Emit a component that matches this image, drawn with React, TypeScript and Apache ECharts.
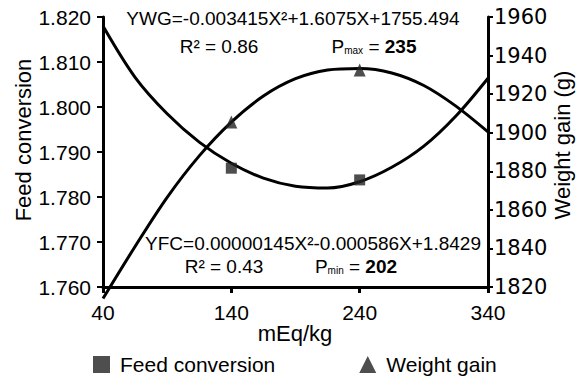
import React, { useEffect, useRef } from "react";
import * as echarts from "echarts";

// fitted curves at these doses (mEq/kg)
const fitX = [40, 65, 90, 115, 140, 165, 190, 215, 240, 265, 290, 315, 340];
const fcFit = [1.818, 1.8066, 1.7985, 1.7922, 1.7875, 1.7842, 1.7824, 1.782, 1.7834, 1.7866, 1.7913, 1.798, 1.8064];
const wgFit = [1814, 1841, 1866.5, 1888, 1905.5, 1919, 1928, 1932.5, 1933.3, 1931, 1924.5, 1913.8, 1900.4];

// observed means
const markX = [140, 240];
const fcMarks = [1.7864, 1.7838];
const wgMarks = [1905.6, 1932.5];

const FONT = "'Liberation Sans', Arial, sans-serif";

export default function App() {
  const ref = useRef<HTMLDivElement>(null);
  useEffect(() => {
    if (!ref.current) return;
    const chart = echarts.init(ref.current, null, { renderer: "svg" });
    const pair = (xs: number[], ys: number[]) => xs.map((x, i) => [x, ys[i]]);
    const sub = (t: string) => ({
      text: t,
      textAlign: "center",
      textVerticalAlign: "middle",
    });
    const rich = {
      p: { fontSize: 19, fontFamily: FONT, fill: "#000" },
      s: { fontSize: 10, fontFamily: FONT, fill: "#000", verticalAlign: "bottom", padding: [8, 0, 0, 0] },
      n: { fontSize: 19, fontFamily: FONT, fill: "#000" },
      b: { fontSize: 19, fontFamily: FONT, fontWeight: "bold", fill: "#000" },
    };
    chart.setOption({
      animation: false,
      backgroundColor: "#fff",
      textStyle: { fontFamily: FONT, color: "#000" },
      grid: { left: 103, right: 91, top: 17, bottom: 90 },
      xAxis: {
        type: "value",
        min: 40,
        max: 340,
        interval: 100,
        splitLine: { show: false },
        axisLine: { show: true, lineStyle: { color: "#000", width: 3 } },
        axisTick: { show: true, length: 6, lineStyle: { color: "#000", width: 3 } },
        axisLabel: { color: "#000", fontSize: 21, fontFamily: FONT, margin: 15 },
      },
      yAxis: [
        {
          type: "value",
          min: 1.76,
          max: 1.82,
          interval: 0.01,
          splitLine: { show: false },
          axisLine: { show: true, lineStyle: { color: "#000", width: 3 } },
          axisTick: { show: true, length: 6, lineStyle: { color: "#000", width: 2 } },
          axisLabel: {
            color: "#000",
            fontSize: 21,
            fontFamily: FONT,
            margin: 12,
            formatter: (v: number) => v.toFixed(3),
          },
        },
        {
          type: "value",
          min: 1820,
          max: 1960,
          interval: 20,
          position: "right",
          splitLine: { show: false },
          axisLine: { show: true, lineStyle: { color: "#000", width: 3 } },
          axisTick: { show: true, length: 5, lineStyle: { color: "#000", width: 2 } },
          axisLabel: {
            color: "#000",
            fontSize: 21,
            fontFamily: "'DejaVu Sans', sans-serif",
            margin: 6,
            formatter: (v: number) => String(v),
          },
        },
      ],
      legend: {
        left: 93,
        top: 354,
        padding: 0,
        itemWidth: 17,
        itemHeight: 17,
        itemGap: 84,
        textStyle: { fontSize: 21, fontFamily: FONT, color: "#000", padding: [0, 0, 0, 5] },
        data: [
          { name: "Feed conversion", icon: "rect" },
          { name: "Weight gain", icon: "triangle" },
        ],
      },
      series: [
        {
          name: "FC fit",
          type: "line",
          yAxisIndex: 0,
          data: pair(fitX, fcFit),
          smooth: 0.33,
          symbol: "none",
          lineStyle: { color: "#000", width: 3 },
          clip: false,
        },
        {
          name: "WG fit",
          type: "line",
          yAxisIndex: 1,
          data: pair(fitX, wgFit),
          smooth: 0.33,
          symbol: "none",
          lineStyle: { color: "#000", width: 3 },
          clip: false,
        },
        {
          name: "Feed conversion",
          type: "scatter",
          yAxisIndex: 0,
          data: pair(markX, fcMarks),
          symbol: "rect",
          symbolSize: 11,
          itemStyle: { color: "#222" },
          z: 5,
        },
        {
          name: "Weight gain",
          type: "scatter",
          yAxisIndex: 1,
          data: pair(markX, wgMarks),
          symbol: "triangle",
          symbolSize: [12, 13],
          itemStyle: { color: "#222" },
          z: 5,
        },
      ],
      graphic: [
        {
          type: "text",
          x: 23,
          y: 140,
          rotation: Math.PI / 2,
          style: { ...sub("Feed conversion"), font: `22px ${FONT}`, fill: "#000" },
        },
        {
          type: "text",
          x: 562,
          y: 145,
          rotation: Math.PI / 2,
          style: { ...sub("Weight gain (g)"), font: `22px ${FONT}`, fill: "#000" },
        },
        {
          type: "text",
          x: 295,
          y: 333,
          style: { ...sub("mEq/kg"), font: `22px ${FONT}`, fill: "#000" },
        },
        {
          type: "text",
          x: 293,
          y: 18,
          style: { ...sub("YWG=-0.003415X²+1.6075X+1755.494"), font: `19px ${FONT}`, fill: "#000" },
        },
        {
          type: "text",
          x: 219,
          y: 46,
          style: { ...sub("R² = 0.86"), font: `19px ${FONT}`, fill: "#000" },
        },
        {
          type: "text",
          x: 374,
          y: 46,
          style: { ...sub("{p|P}{s|max}{n| = }{b|235}"), rich },
        },
        {
          type: "text",
          x: 313,
          y: 243,
          style: { ...sub("YFC=0.00000145X²-0.000586X+1.8429"), font: `19px ${FONT}`, fill: "#000" },
        },
        {
          type: "text",
          x: 224,
          y: 266,
          style: { ...sub("R² = 0.43"), font: `19px ${FONT}`, fill: "#000" },
        },
        {
          type: "text",
          x: 356,
          y: 266,
          style: { ...sub("{p|P}{s|min}{n| = }{b|202}"), rich },
        },
      ],
    });
    return () => chart.dispose();
  }, []);
  return <div ref={ref} style={{ position: "absolute", left: 0, top: 0, width: 579, height: 377 }} />;
}
